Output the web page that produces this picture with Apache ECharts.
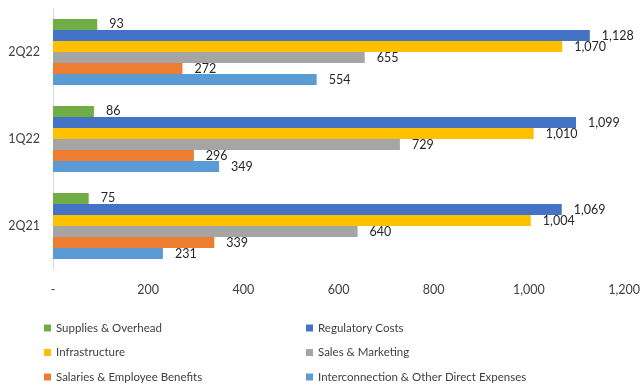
<!DOCTYPE html>
<html>
<head>
<meta charset="utf-8">
<script src="https://cdn.jsdelivr.net/npm/echarts@6/dist/echarts.min.js"></script>
<style>
  html, body { margin: 0; padding: 0; background: #fff; }
  #chart { width: 643px; height: 385px; }
</style>
</head>
<body>
<div id="chart"></div>
<script>
// Quarters, listed bottom to top on the category axis
const quarters = ['2Q21', '1Q22', '2Q22'];

// Expense lines per quarter (2Q21, 1Q22, 2Q22)
const suppliesOverhead = [75, 86, 93];
const regulatoryCosts = [1069, 1099, 1128];
const infrastructure = [1004, 1010, 1070];
const salesMarketing = [640, 729, 655];
const salariesBenefits = [339, 296, 272];
const interconnection = [231, 349, 554];

const xTicks = { min: 0, max: 1200, step: 200 };

const FONT = 'Lato, "Open Sans", sans-serif';
const fmt = v => v === 0 ? '-' : v.toLocaleString('en-US');

// Drawn top-down inside each quarter group
const seriesDefs = [
  { name: 'Supplies & Overhead', data: suppliesOverhead, color: '#70AD47' },
  { name: 'Regulatory Costs', data: regulatoryCosts, color: '#4472C4' },
  { name: 'Infrastructure', data: infrastructure, color: '#FFC000' },
  { name: 'Sales & Marketing', data: salesMarketing, color: '#A5A5A5' },
  { name: 'Salaries & Employee Benefits', data: salariesBenefits, color: '#ED7D31' },
  { name: 'Interconnection & Other Direct Expenses', data: interconnection, color: '#5B9BD5' }
];

const legendText = { fontFamily: FONT, fontSize: 11.5, color: '#404040' };
const legendCommon = {
  orient: 'vertical',
  top: 322,
  padding: 0,
  itemWidth: 7,
  itemHeight: 7,
  itemGap: 12.5,
  icon: 'rect',
  textStyle: legendText,
  selectedMode: false
};

const chart = echarts.init(document.getElementById('chart'), null, { renderer: 'canvas' });
chart.setOption({
  animation: false,
  backgroundColor: '#fff',
  grid: { left: 53, top: 8.5, width: 573, height: 261, containLabel: false },
  xAxis: {
    type: 'value',
    min: xTicks.min,
    max: xTicks.max,
    interval: xTicks.step,
    axisLine: { show: false },
    axisTick: { show: false },
    splitLine: { show: false },
    axisLabel: { formatter: fmt, fontFamily: FONT, fontSize: 12.5, color: '#404040', margin: 14 }
  },
  yAxis: {
    type: 'category',
    data: quarters,
    axisLine: { show: true, lineStyle: { color: '#D9D9D9', width: 1 } },
    axisTick: { show: false },
    axisLabel: { fontFamily: FONT, fontSize: 12.5, color: '#404040', margin: 13 }
  },
  legend: [
    Object.assign({ left: 44, data: ['Supplies & Overhead', 'Infrastructure', 'Salaries & Employee Benefits'] }, legendCommon),
    Object.assign({ left: 306, data: ['Regulatory Costs', 'Sales & Marketing', 'Interconnection & Other Direct Expenses'] }, legendCommon)
  ],
  series: seriesDefs.map(s => ({
    name: s.name,
    type: 'bar',
    data: s.data,
    barGap: '0%',
    barCategoryGap: '24%',
    itemStyle: { color: s.color },
    label: {
      show: true,
      position: 'right',
      distance: 12,
      formatter: p => fmt(p.value),
      fontFamily: FONT,
      fontSize: 12.5,
      color: '#262626'
    }
  }))
});
</script>
</body>
</html>
